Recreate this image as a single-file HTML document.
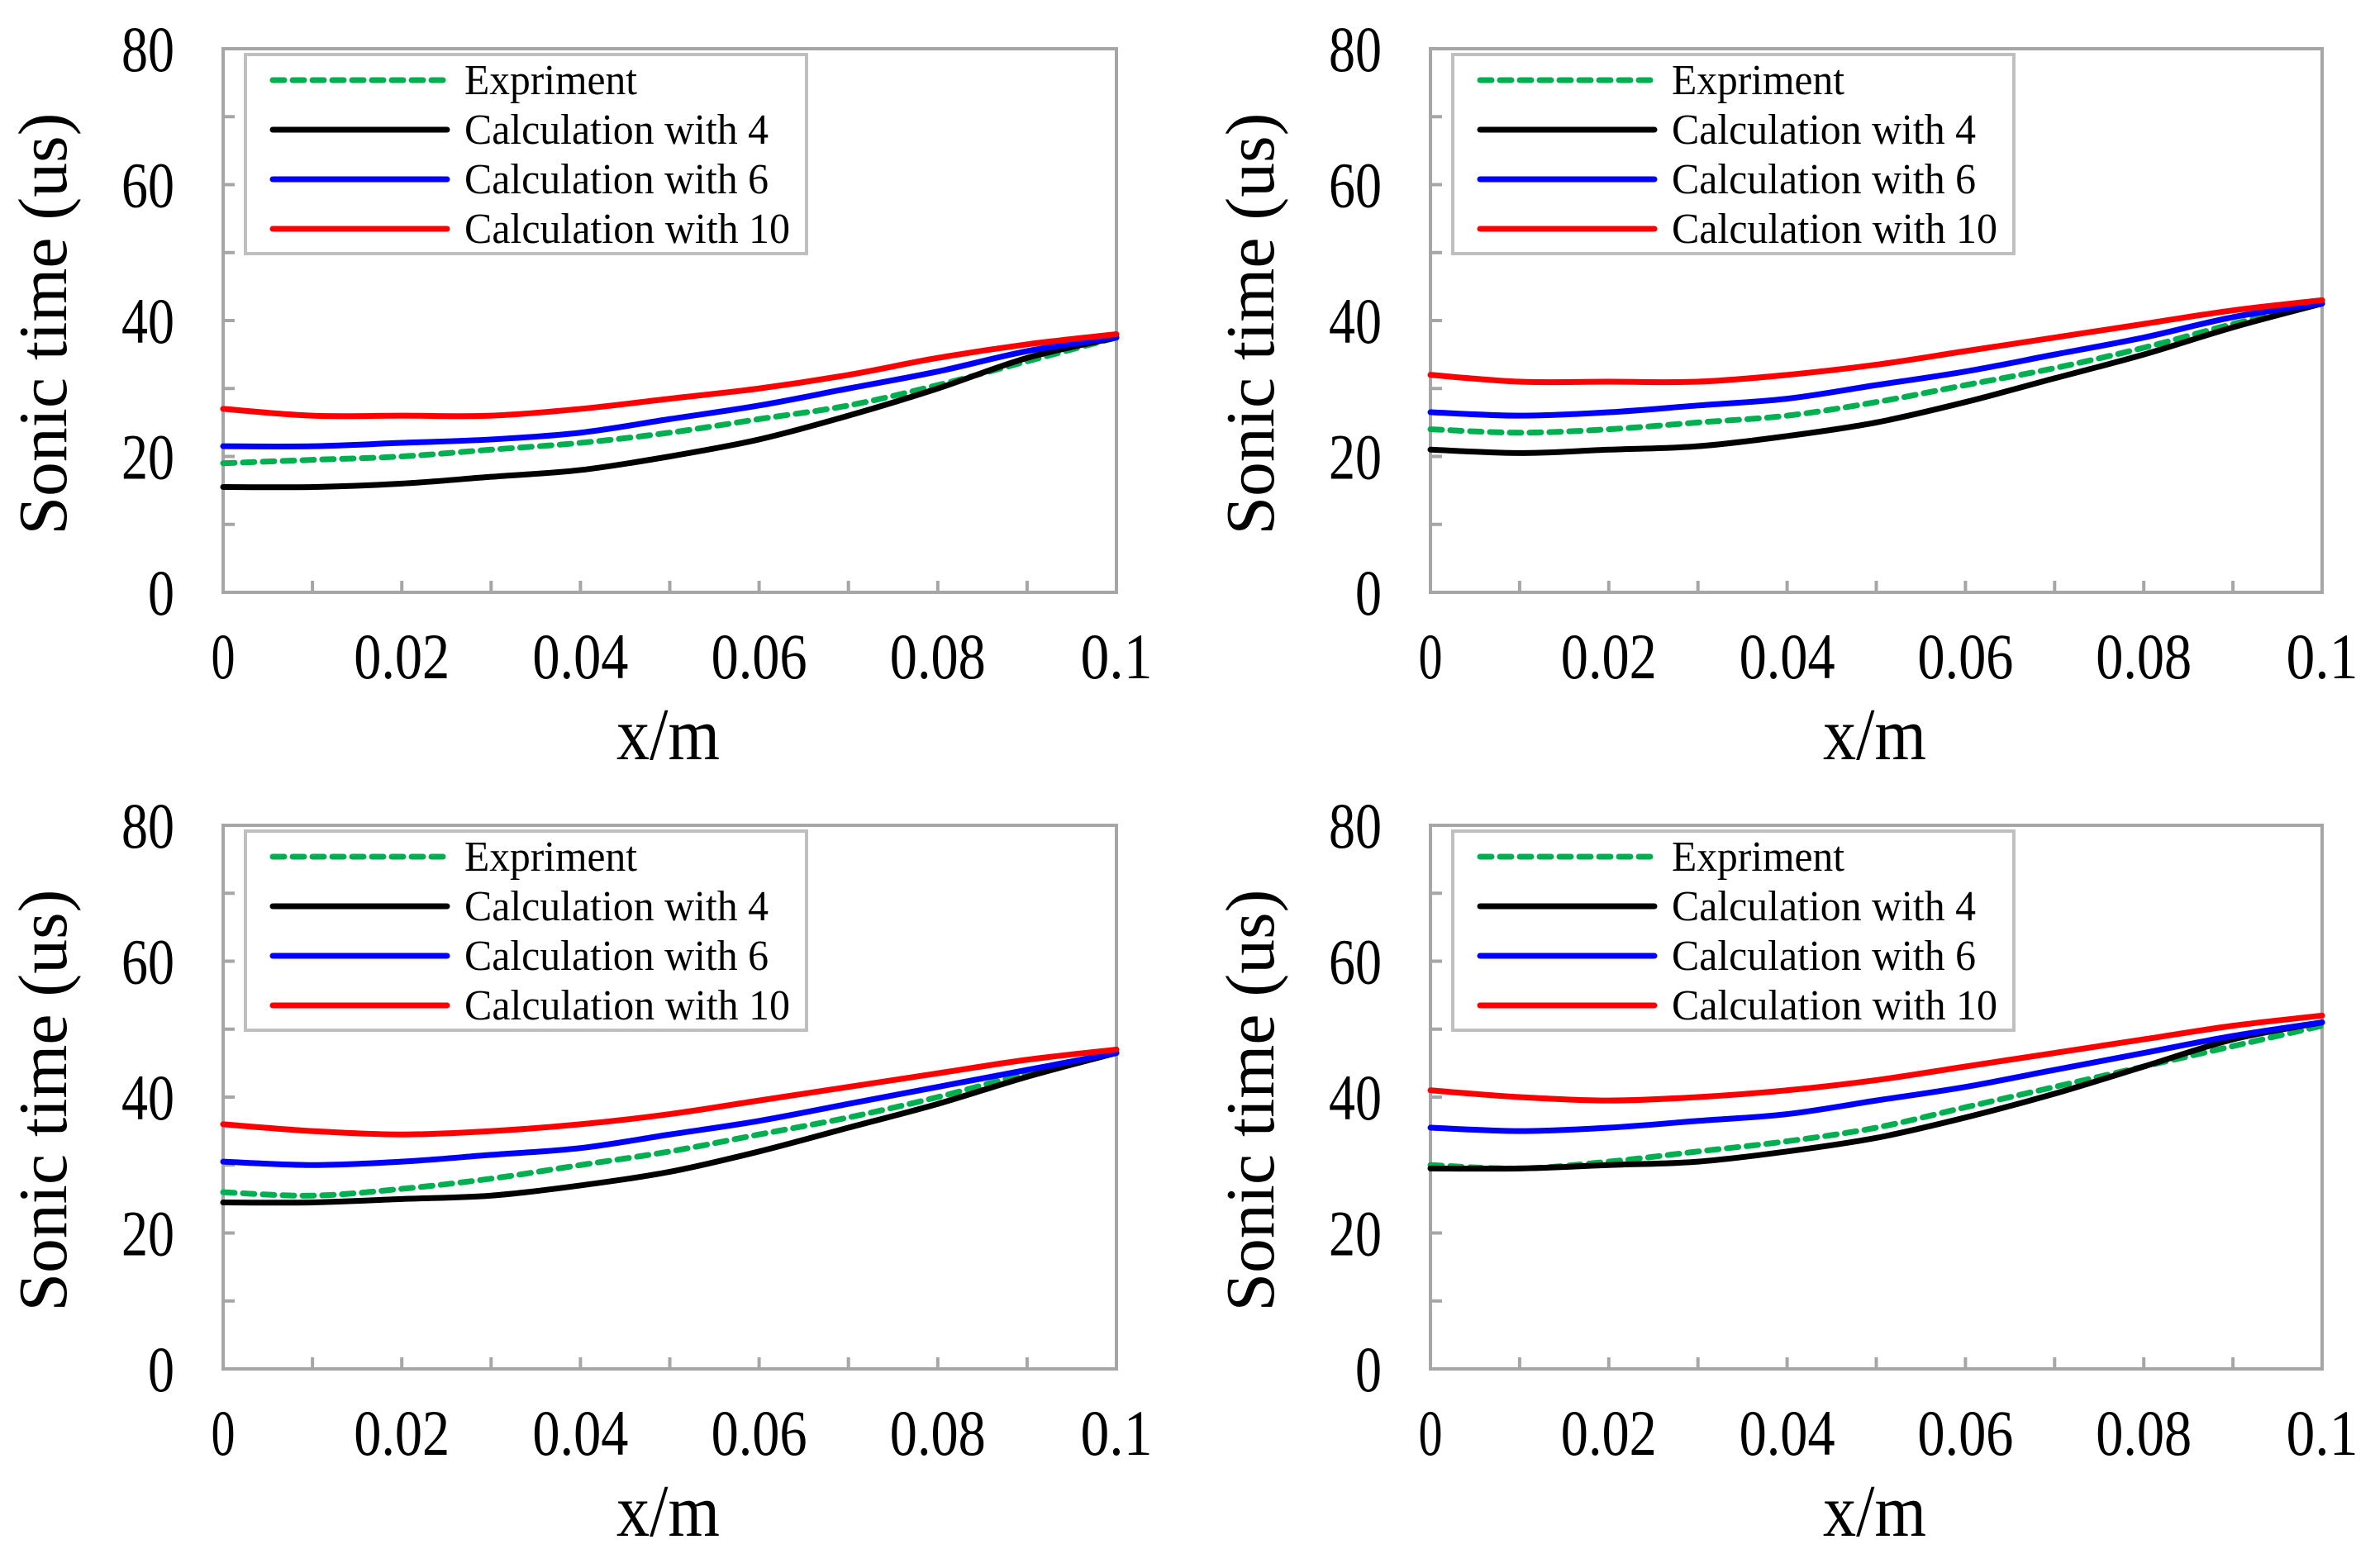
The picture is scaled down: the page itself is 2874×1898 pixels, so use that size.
<!DOCTYPE html>
<html><head><meta charset="utf-8"><style>
html,body{margin:0;padding:0;background:#fff;}
svg{display:block;font-family:"Liberation Serif",serif;}
</style></head><body>
<svg id="chart" width="2874" height="1898" viewBox="0 0 2874 1898" xmlns="http://www.w3.org/2000/svg"></svg>
<script>
const xValues = [0,0.01,0.02,0.03,0.04,0.05,0.06,0.07,0.08,0.09,0.1];
const xTickLabels = ["0","0.02","0.04","0.06","0.08","0.1"];
const yTickLabels = ["0","20","40","60","80"];
const seriesNames = ["Expriment","Calculation with 4","Calculation with 6","Calculation with 10"];
const p1Exp = [19,19.5,20,21,22,23.5,25.5,27.5,30.5,34,37.5];
const p1C4  = [15.5,15.5,16,17,18,20,22.5,26,30,34.5,37.5];
const p1C6  = [21.5,21.5,22,22.5,23.5,25.5,27.5,30,32.5,35.5,37.5];
const p1C10 = [27,26,26,26,27,28.5,30,32,34.5,36.5,38];
const p2Exp = [24,23.5,24,25,26,28,30.5,33,36,39.5,42.5];
const p2C4  = [21,20.5,21,21.5,23,25,28,31.5,35,39,42.5];
const p2C6  = [26.5,26,26.5,27.5,28.5,30.5,32.5,35,37.5,40.5,42.5];
const p2C10 = [32,31,31,31,32,33.5,35.5,37.5,39.5,41.5,43];
const p3Exp = [26,25.5,26.5,28,30,32,34.5,37,40,43.5,46.5];
const p3C4  = [24.5,24.5,25,25.5,27,29,32,35.5,39,43,46.5];
const p3C6  = [30.5,30,30.5,31.5,32.5,34.5,36.5,39,41.5,44,46.5];
const p3C10 = [36,35,34.5,35,36,37.5,39.5,41.5,43.5,45.5,47];
const p4Exp = [30,29.5,30.5,32,33.5,35.5,38.5,41.5,44.5,47.5,50.5];
const p4C4  = [29.5,29.5,30,30.5,32,34,37,40.5,44.5,48.5,51];
const p4C6  = [35.5,35,35.5,36.5,37.5,39.5,41.5,44,46.5,49,51];
const p4C10 = [41,40,39.5,40,41,42.5,44.5,46.5,48.5,50.5,52];

const panels = [
  {L:270,R:1351,T:59,B:717,data:[p1Exp,p1C4,p1C6,p1C10]},
  {L:1731,R:2810,T:59,B:717,data:[p2Exp,p2C4,p2C6,p2C10]},
  {L:270,R:1351,T:999,B:1657,data:[p3Exp,p3C4,p3C6,p3C10]},
  {L:1731,R:2810,T:999,B:1657,data:[p4Exp,p4C4,p4C6,p4C10]}
];
const colors = ["#00b050","#000000","#0000ff","#ff0000"];
const NS = "http://www.w3.org/2000/svg";
const svg = document.getElementById('chart');
function mk(tag, attrs, parent){const e=document.createElementNS(NS,tag);for(const k in attrs)e.setAttribute(k,attrs[k]);(parent||svg).appendChild(e);return e;}
function smooth(pts){
  let d="M"+pts[0][0]+","+pts[0][1];
  for(let i=0;i<pts.length-1;i++){
    const p0=pts[Math.max(0,i-1)],p1=pts[i],p2=pts[i+1],p3=pts[Math.min(pts.length-1,i+2)];
    const c1=[p1[0]+(p2[0]-p0[0])/6,p1[1]+(p2[1]-p0[1])/6];
    const c2=[p2[0]-(p3[0]-p1[0])/6,p2[1]-(p3[1]-p1[1])/6];
    d+=" C"+c1[0]+","+c1[1]+" "+c2[0]+","+c2[1]+" "+p2[0]+","+p2[1];
  }
  return d;
}
panels.forEach((p,pi)=>{
  const g=mk('g',{});
  
  
  const xs=v=>p.L+(v/0.1)*(p.R-p.L);
  const ys=v=>p.B-(v/80)*(p.B-p.T);
  const frame=mk('rect',{x:p.L,y:p.T,width:p.R-p.L,height:p.B-p.T,fill:'none',stroke:'#a6a6a6','stroke-width':4},g);
  
  
  for(let i=1;i<10;i++){const x=xs(i*0.01);const t=mk('line',{x1:x,x2:x,y1:p.B,y2:p.B-14,stroke:'#a6a6a6','stroke-width':4},g);}
  for(let i=1;i<8;i++){const y=ys(i*10);const t=mk('line',{x1:p.L,x2:p.L+14,y1:y,y2:y,stroke:'#a6a6a6','stroke-width':4},g);}
  xTickLabels.forEach((lab,i)=>{const t=mk('text',{x:xs(i*0.02),y:p.B+104,'font-size':78,'text-anchor':'middle'},g);t.textContent=lab;t.setAttribute('textLength',lab.length*29);t.setAttribute('lengthAdjust','spacingAndGlyphs');});
  yTickLabels.forEach((lab,i)=>{const t=mk('text',{x:p.L-59,y:ys(i*20)+27,'font-size':78,'text-anchor':'end'},g);t.textContent=lab;t.setAttribute('textLength',lab.length*32);t.setAttribute('lengthAdjust','spacingAndGlyphs');});
  const xt=mk('text',{x:(p.L+p.R)/2-2,y:p.B+202,'font-size':90,'text-anchor':'middle',textLength:125,lengthAdjust:'spacingAndGlyphs'},g);xt.textContent='x/m';
  
  const cy=(p.T+p.B)/2+4, cx=p.L-190;
  const yt=mk('text',{x:cx,y:cy,'font-size':84,'text-anchor':'middle',textLength:511,lengthAdjust:'spacingAndGlyphs',transform:'rotate(-90 '+cx+' '+cy+')'},g);yt.textContent='Sonic time (us)';
  
  p.data.forEach((arr,si)=>{
    const pts=arr.map((v,i)=>[xs(xValues[i]),ys(v)]);
    const path=mk('path',{d:smooth(pts),fill:'none',stroke:colors[si],'stroke-width':7,'stroke-linecap':'round','stroke-linejoin':'round'},g);
    if(si===0)path.setAttribute('stroke-dasharray','14 10');
    
    
  });
  const lg=mk('g',{},g);
  
  
  const lx=p.L+27, ly=p.T+7;
  mk('rect',{x:lx,y:ly,width:679,height:241,fill:'#fff',stroke:'#bfbfbf','stroke-width':4},lg);
  seriesNames.forEach((nm,si)=>{
    const ry=ly+31+si*60;
    const e=mk('g',{},lg);
    
    
    const ln=mk('line',{x1:lx+33,x2:lx+244,y1:ry,y2:ry,stroke:colors[si],'stroke-width':7,'stroke-linecap':'round'},e);
    if(si===0)ln.setAttribute('stroke-dasharray','14 10');
    const t=mk('text',{x:lx+265,y:ry+17,'font-size':52},e);
    t.textContent=nm;
    t.setAttribute('textLength',[209,368,368,394][si]);
    t.setAttribute('lengthAdjust','spacingAndGlyphs');
  });
});
</script>
</body></html>
